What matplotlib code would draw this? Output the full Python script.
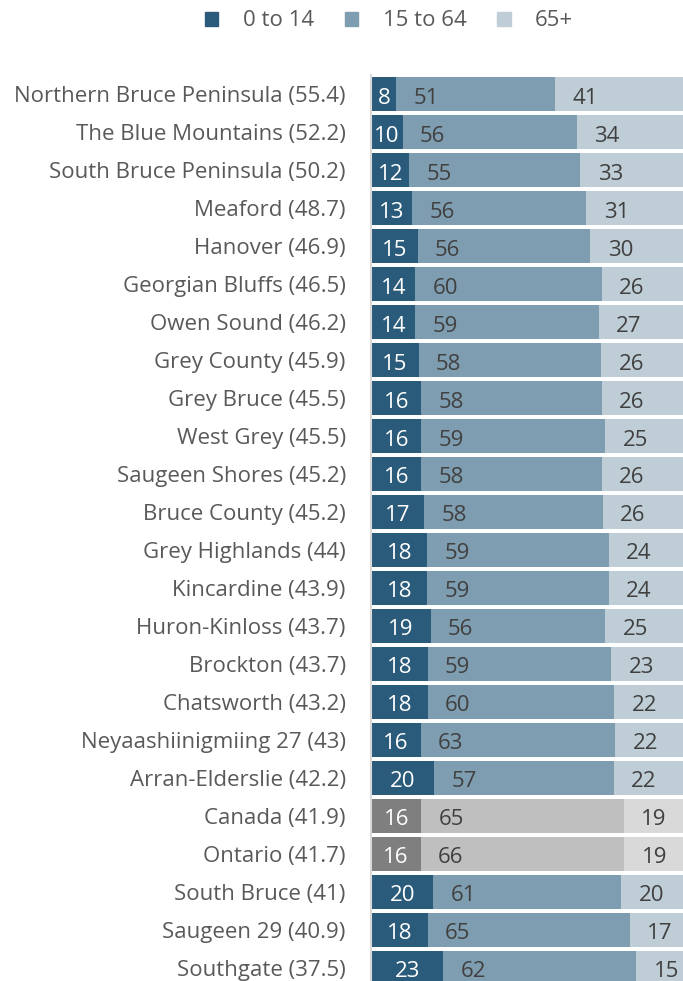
import matplotlib.pyplot as plt
from matplotlib.patches import Patch

plt.rcParams['font.family'] = ['Open Sans', 'DejaVu Sans']

nombres = [
    "Northern Bruce Peninsula (55.4)", "The Blue Mountains (52.2)",
    "South Bruce Peninsula (50.2)", "Meaford (48.7)", "Hanover (46.9)",
    "Georgian Bluffs (46.5)", "Owen Sound (46.2)", "Grey County (45.9)",
    "Grey Bruce (45.5)", "West Grey (45.5)", "Saugeen Shores (45.2)",
    "Bruce County (45.2)", "Grey Highlands (44)", "Kincardine (43.9)",
    "Huron-Kinloss (43.7)", "Brockton (43.7)", "Chatsworth (43.2)",
    "Neyaashiinigmiing 27 (43)", "Arran-Elderslie (42.2)", "Canada (41.9)",
    "Ontario (41.7)", "South Bruce (41)", "Saugeen 29 (40.9)", "Southgate (37.5)",
]
edad_0_14 = [8, 10, 12, 13, 15, 14, 14, 15, 16, 16, 16, 17, 18, 18, 19, 18, 18, 16, 20, 16, 16, 20, 18, 23]
edad_15_64 = [51, 56, 55, 56, 56, 60, 59, 58, 58, 59, 58, 58, 59, 59, 56, 59, 60, 63, 57, 65, 66, 61, 65, 62]
edad_65 = [41, 34, 33, 31, 30, 26, 27, 26, 26, 25, 26, 26, 24, 24, 25, 23, 22, 22, 22, 19, 19, 20, 17, 15]
referencias = ["Canada (41.9)", "Ontario (41.7)"]

colores = ['#2B5B7A', '#7F9DB0', '#BFCDD6']
colores_ref = ['#7F7F7F', '#BFBFBF', '#D9D9D9']

W, H = 683, 981
fig = plt.figure(figsize=(W / 100, H / 100), dpi=100)
ax = fig.add_axes([371.5 / W, 0, (683 - 371.5) / W, (981 - 75.4) / H])

alto = 0.9
fs = 16
for i, nombre in enumerate(nombres):
    cols = colores_ref if nombre in referencias else colores
    valores = [edad_0_14[i], edad_15_64[i], edad_65[i]]
    total = sum(valores)
    izq = 0
    for j, v in enumerate(valores):
        ancho = v / total * 100  # barra apilada al 100 %
        ax.barh(i, ancho, left=izq, height=alto, color=cols[j], linewidth=0)
        if j == 0:
            ax.annotate(str(v), (izq + ancho / 2, i), xytext=(0, -1),
                        textcoords='offset points', ha='center',
                        va='center_baseline', color='white', fontsize=fs)
        else:
            ax.annotate(str(v), (izq, i), xytext=(12.5, -1),
                        textcoords='offset points', ha='left',
                        va='center_baseline', color='#404040', fontsize=fs)
        izq += ancho

ax.set_xlim(0, 100)
ax.set_ylim(23.35, -0.5)
ax.set_yticks(range(len(nombres)))
ax.set_yticklabels(nombres, fontsize=fs, color='#595959', va='center_baseline')
ax.tick_params(axis='y', length=0, pad=18.5)
ax.set_xticks([])
for s in ['top', 'right', 'bottom']:
    ax.spines[s].set_visible(False)
ax.spines['left'].set_color('#D9D9D9')
ax.spines['left'].set_linewidth(1.5)

manejadores = [Patch(color=c) for c in colores]
fig.legend(manejadores, ['0 to 14', '15 to 64', '65+'], loc='center',
           bbox_to_anchor=(389 / W, 1 - 21 / H), ncol=3, frameon=False,
           fontsize=fs, labelcolor='#595959', handlelength=0.6,
           handleheight=0.6, handletextpad=1.1, columnspacing=1.4)

fig.savefig('out.png', dpi=100)
